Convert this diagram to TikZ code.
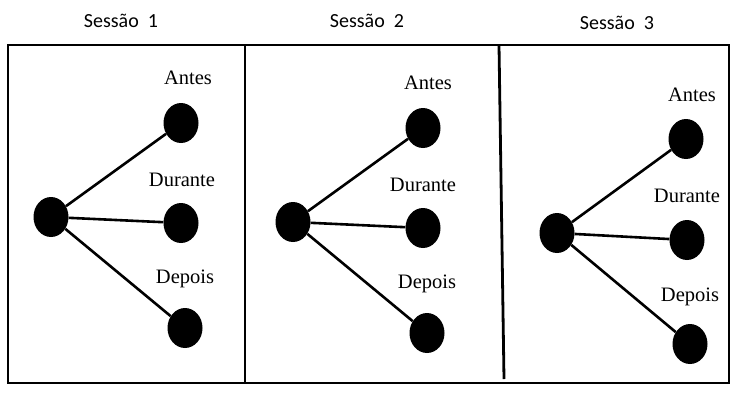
\documentclass[tikz,border=0pt]{standalone}
\usepackage{fontspec}
\setmainfont{Liberation Serif}
\newfontfamily\titlefont{Carlito}
\usetikzlibrary{shapes.geometric}
\tikzset{
  dot/.style={ellipse, fill=black, draw=none, minimum width=35pt, minimum height=40pt, inner sep=0pt},
  lbl/.style={font=\fontsize{20.5}{22}\selectfont, inner sep=0pt},
  ttl/.style={font=\titlefont\fontsize{20}{22}\selectfont, inner sep=0pt},
  edge/.style={line width=2.6pt},
  frame/.style={line width=2.8pt}
}
\begin{document}
\begin{tikzpicture}[x=1pt,y=-1pt]
\useasboundingbox (0,0) rectangle (739,400);
% frame
\draw[frame] (8,45) rectangle (729,383);
\coordinate (d1t) at (245,45);
\coordinate (d1b) at (245,383);
\coordinate (d2t) at (499,45);
\coordinate (d2b) at (504,379);
\draw[frame] (d1t) -- (d1b);
\draw[frame] (d2t) -- (d2b);
% titles
\node[ttl] (t1) at (121,21) {Sessão\ \ 1};
\node[ttl] (t2) at (367,21) {Sessão\ \ 2};
\node[ttl] (t3) at (617,23) {Sessão\ \ 3};
% panel 1
\node[dot] (h1) at (51,217) {};
\node[dot] (a1) at (181,123) {};
\node[dot] (u1) at (181,223) {};
\node[dot] (p1) at (185,328) {};
\node[lbl] (la1) at (188,78) {Antes};
\node[lbl] (lu1) at (182,180) {Durante};
\node[lbl] (lp1) at (185,279) {Depois};
\draw[edge] (h1) -- (a1);
\draw[edge] (h1) -- (u1);
\draw[edge] (h1) -- (p1);
% panel 2
\node[dot] (h2) at (293,222) {};
\node[dot] (a2) at (423,128) {};
\node[dot] (u2) at (423,228) {};
\node[dot] (p2) at (427,333) {};
\node[lbl] (la2) at (428,83) {Antes};
\node[lbl] (lu2) at (423,185) {Durante};
\node[lbl] (lp2) at (427,284) {Depois};
\draw[edge] (h2) -- (a2);
\draw[edge] (h2) -- (u2);
\draw[edge] (h2) -- (p2);
% panel 3
\node[dot] (h3) at (557,233) {};
\node[dot] (a3) at (686,139) {};
\node[dot] (u3) at (687,240) {};
\node[dot] (p3) at (690,344) {};
\node[lbl] (la3) at (692,95) {Antes};
\node[lbl] (lu3) at (687,196) {Durante};
\node[lbl] (lp3) at (690,297) {Depois};
\draw[edge] (h3) -- (a3);
\draw[edge] (h3) -- (u3);
\draw[edge] (h3) -- (p3);
\end{tikzpicture}
\end{document}
